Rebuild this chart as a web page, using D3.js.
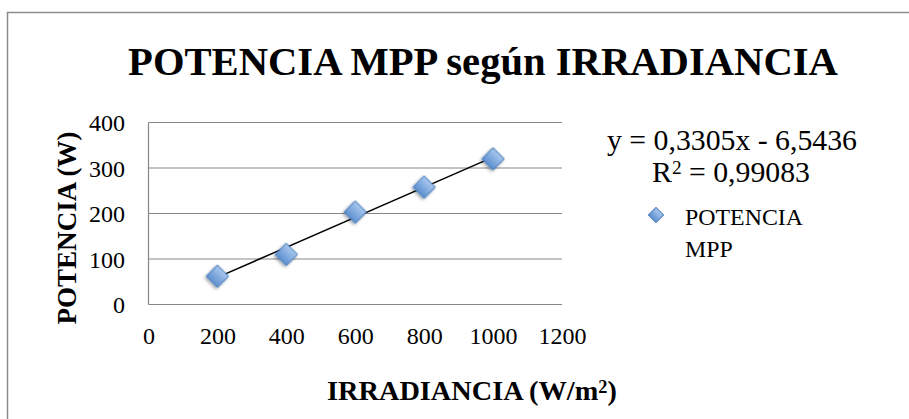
<!DOCTYPE html>
<html>
<head>
<meta charset="utf-8">
<script src="https://cdn.jsdelivr.net/npm/d3@7"></script>
<style>
  body { margin: 0; background: #fff; }
  text { font-family: "Liberation Serif", "DejaVu Serif", serif; fill: #000; }
</style>
</head>
<body>
<script>
// data
var irradiancia = [200, 400, 600, 800, 1000];
var potencia = [62, 110, 203, 258, 320];
var xTicks = [0, 200, 400, 600, 800, 1000, 1200];
var yTicks = [0, 100, 200, 300, 400];
var trendSlope = 0.3305;
var trendIntercept = -6.5436;
var rSquared = "0,99083";
var seriesName = ["POTENCIA", "MPP"];

// scale a text's font so it spans the wanted width
function fitWidth(sel, w) {
    var len = sel.node().getComputedTextLength();
    var fs = parseFloat(sel.style("font-size"));
    sel.style("font-size", (fs * w / len) + "px");
}

window.onload = function () {
    var svg_width = 909;
    var svg_height = 419;

    var svg = d3.select("body")
        .append("svg")
        .attr("width", svg_width)
        .attr("height", svg_height);

    // gradient for the diamonds
    var defs = svg.append("defs");
    var grad = defs.append("linearGradient")
        .attr("id", "diamondFill")
        .attr("x1", "0").attr("y1", "0")
        .attr("x2", "0").attr("y2", "1");
    grad.append("stop").attr("offset", "0%").attr("stop-color", "#a9c8ee");
    grad.append("stop").attr("offset", "100%").attr("stop-color", "#5d8fd0");
    var shadow = defs.append("filter").attr("id", "shadow")
        .attr("x", "-50%").attr("y", "-50%").attr("width", "200%").attr("height", "200%");
    shadow.append("feDropShadow")
        .attr("dx", 0).attr("dy", 2).attr("stdDeviation", 1.5)
        .attr("flood-color", "#000").attr("flood-opacity", 0.35);

    // outer chart frame (runs off the right and bottom)
    svg.append("rect")
        .attr("x", 7.5).attr("y", 12.5)
        .attr("width", 960).attr("height", 430)
        .attr("fill", "none")
        .attr("stroke", "#8c8c8c")
        .attr("stroke-width", 1.5);

    // title
    var title = svg.append("text")
        .attr("x", 483).attr("y", 75)
        .attr("text-anchor", "middle")
        .style("font-size", "42px")
        .style("font-weight", "bold")
        .text("POTENCIA MPP según IRRADIANCIA");
    fitWidth(title, 710);

    var x = d3.scaleLinear().domain([0, 1200]).range([148.5, 562]);
    var y = d3.scaleLinear().domain([0, 400]).range([304.5, 122.5]);

    // grid lines
    svg.append("g").selectAll("line")
        .data(yTicks)
        .enter()
        .append("line")
        .attr("x1", x(0)).attr("x2", x(1200))
        .attr("y1", function (d) { return y(d); })
        .attr("y2", function (d) { return y(d); })
        .attr("stroke", "#878787")
        .attr("stroke-width", 1.2);

    // left axis line
    svg.append("line")
        .attr("x1", x(0)).attr("x2", x(0))
        .attr("y1", y(0)).attr("y2", y(400))
        .attr("stroke", "#878787")
        .attr("stroke-width", 1.2);

    // axes with only labels
    var yAxis = svg.append("g")
        .attr("transform", "translate(125,0)")
        .call(d3.axisLeft(y).tickValues(yTicks).tickFormat(d3.format("d")).tickSize(0).tickPadding(0));
    yAxis.select(".domain").remove();
    yAxis.selectAll("text")
        .attr("dy", "0.35em")
        .style("font-size", "24px")
        .style("font-family", "'Liberation Serif', serif");

    var xAxis = svg.append("g")
        .attr("transform", "translate(0,344)")
        .call(d3.axisBottom(x).tickValues(xTicks).tickFormat(d3.format("d")).tickSize(0).tickPadding(0));
    xAxis.select(".domain").remove();
    xAxis.selectAll("text")
        .attr("y", 0)
        .attr("dy", 0)
        .style("font-size", "24px")
        .style("font-family", "'Liberation Serif', serif");

    // axis titles
    var yt = svg.append("text")
        .attr("transform", "translate(76,228) rotate(-90)")
        .attr("text-anchor", "middle")
        .style("font-size", "26px")
        .style("font-weight", "bold")
        .text("POTENCIA (W)");
    fitWidth(yt, 193);

    var xt = svg.append("text")
        .attr("x", 472).attr("y", 400)
        .attr("text-anchor", "middle")
        .style("font-size", "32px")
        .style("font-weight", "bold");
    xt.append("tspan").text("IRRADIANCIA (W/m");
    xt.append("tspan").attr("dy", "-0.4em").style("font-size", "0.65em").text("2");
    xt.append("tspan").attr("dy", "0.26em").text(")");
    fitWidth(xt, 290);

    // trend line
    var trend = [irradiancia[0], irradiancia[irradiancia.length - 1]];
    svg.append("line")
        .attr("x1", x(trend[0]))
        .attr("y1", y(trendSlope * trend[0] + trendIntercept))
        .attr("x2", x(trend[1]))
        .attr("y2", y(trendSlope * trend[1] + trendIntercept))
        .attr("stroke", "#000")
        .attr("stroke-width", 1.5);

    // diamonds
    var diamond = d3.symbol().type(d3.symbolSquare).size(250);
    svg.append("g").selectAll("path")
        .data(irradiancia)
        .enter()
        .append("path")
        .attr("d", diamond)
        .attr("transform", function (d, i) {
            return "translate(" + x(d) + "," + y(potencia[i]) + ") rotate(45)";
        })
        .attr("fill", "url(#diamondFill)")
        .attr("stroke", "#4a7ebb")
        .attr("stroke-width", 1)
        .attr("filter", "url(#shadow)");

    // trendline equation
    var eq = svg.append("text")
        .attr("x", 732).attr("y", 150)
        .attr("text-anchor", "middle")
        .style("font-size", "28px")
        .text("y = " + String(trendSlope).replace(".", ",") + "x - " + String(-trendIntercept).replace(".", ","));
    fitWidth(eq, 250);
    var r2 = svg.append("text")
        .attr("x", 731).attr("y", 182)
        .attr("text-anchor", "middle")
        .style("font-size", eq.style("font-size"));
    r2.append("tspan").text("R");
    r2.append("tspan").attr("dy", "-0.4em").style("font-size", "0.65em").text("2");
    r2.append("tspan").attr("dy", "0.26em").text(" = " + rSquared);

    // legend
    svg.append("path")
        .attr("d", d3.symbol().type(d3.symbolSquare).size(115))
        .attr("transform", "translate(656,215) rotate(45)")
        .attr("fill", "url(#diamondFill)")
        .attr("stroke", "#4a7ebb")
        .attr("stroke-width", 1);
    var leg = svg.append("g").selectAll("text")
        .data(seriesName)
        .enter()
        .append("text")
        .attr("x", 685)
        .attr("y", function (d, i) { return 225 + i * 32; })
        .style("font-family", "'Liberation Serif', serif")
        .style("font-size", "24px")
        .text(function (d) { return d; });
    fitWidth(d3.select(leg.nodes()[0]), 118);
    d3.select(leg.nodes()[1]).style("font-size", d3.select(leg.nodes()[0]).style("font-size"));
};
</script>
</body>
</html>
